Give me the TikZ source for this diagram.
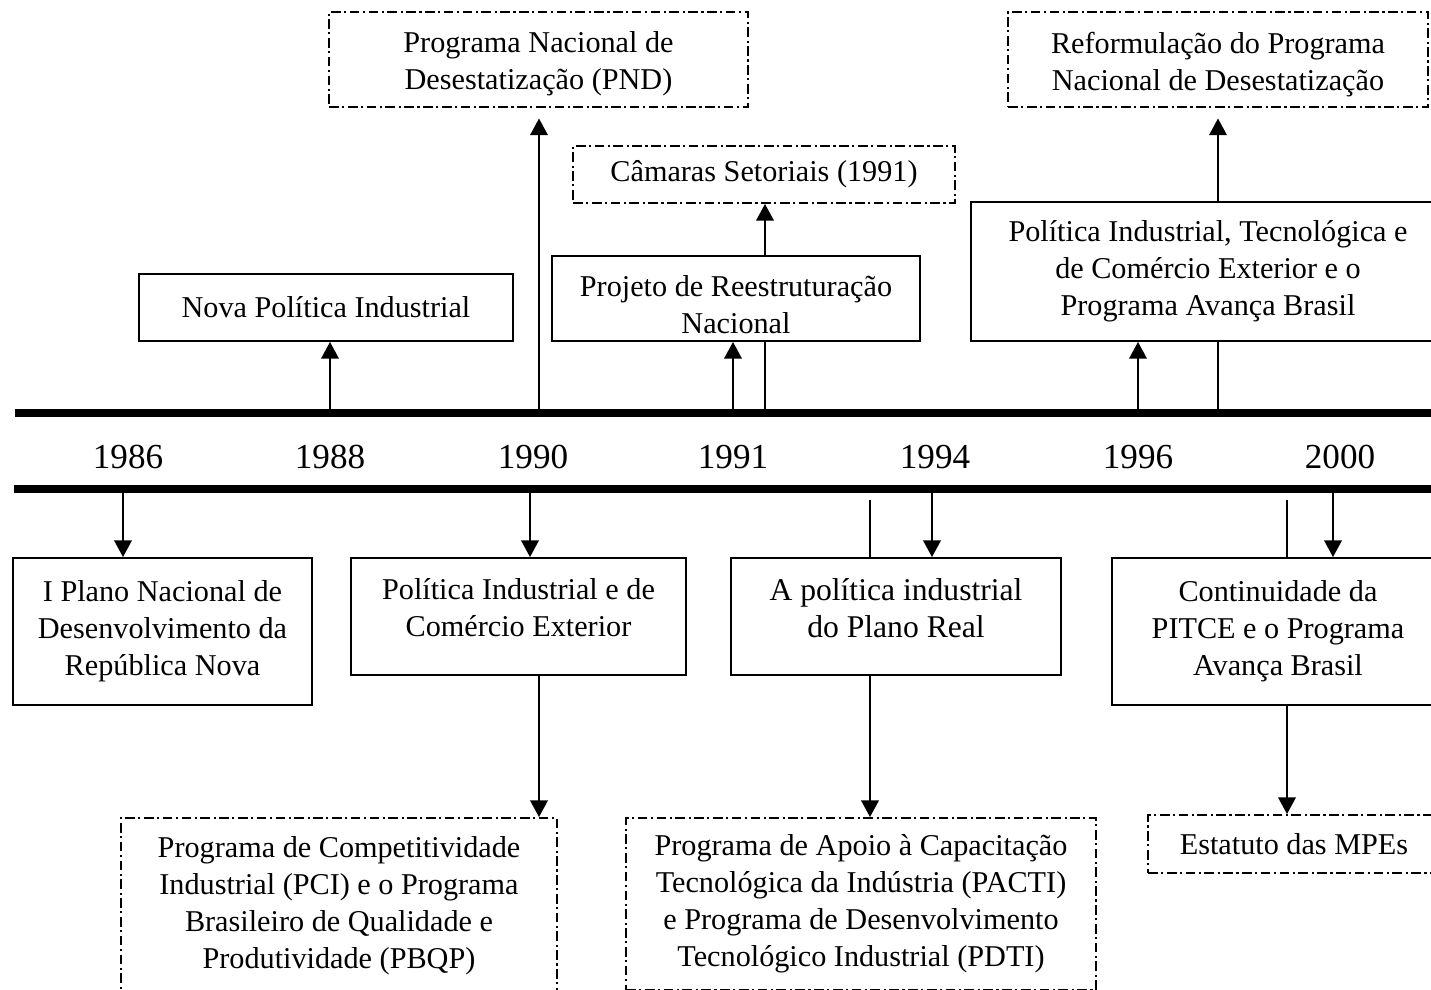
\documentclass[tikz,border=0pt]{standalone}
\usepackage{fontspec}
\setmainfont{Liberation Serif}
\usetikzlibrary{arrows.meta}

\begin{document}
\begin{tikzpicture}[x=0.02cm,y=-0.02cm,
    caixa/.style={draw, line width=1.1pt, align=center, inner sep=0pt, font=\fontsize{17.2}{21}\selectfont},
    tracejada/.style={caixa, dash pattern=on 5.5pt off 2pt on 1.2pt off 2pt},
    seta/.style={line width=1.1pt, -{Triangle[width=10pt,length=9.5pt]}},
    haste/.style={line width=1.1pt},
    ano/.style={font=\fontsize{20}{24}\selectfont}]
  \useasboundingbox (0,0) rectangle (1431,990);
  \clip (0,0) rectangle (1431,990);
  % linha do tempo
  \draw[line width=4.5pt] (15,413) -- (1431,413);
  \draw[line width=4.5pt] (14,489) -- (1431,489);
  \node[ano] (a86) at (128,457) {1986};
  \node[ano] (a88) at (330,457) {1988};
  \node[ano] (a90) at (533,457) {1990};
  \node[ano] (a91) at (733,457) {1991};
  \node[ano] (a94) at (935,457) {1994};
  \node[ano] (a96) at (1138,457) {1996};
  \node[ano] (a00) at (1340,457) {2000};
  % pontos na barra de cima
  \coordinate (c88) at (330,413);
  \coordinate (c90) at (539,413);
  \coordinate (c91a) at (733,413);
  \coordinate (c91b) at (765,413);
  \coordinate (c96a) at (1138,413);
  \coordinate (c96b) at (1218,413);
  % pontos na barra de baixo
  \coordinate (b86) at (123,489);
  \coordinate (b90) at (530,489);
  \coordinate (d90) at (539,489);
  \coordinate (r94) at (870,500);
  \coordinate (b94) at (932,489);
  \coordinate (r00) at (1287,500);
  \coordinate (b00) at (1333,489);
  % caixas de cima
  \node[tracejada, minimum width=8.38cm, minimum height=1.9cm, text height=38pt] (pnd) at (538.5,59.5)
    {Programa Nacional de\\Desestatização (PND)};
  \node[caixa, minimum width=7.48cm, minimum height=1.34cm] (nova) at (326,307.5)
    {Nova Política Industrial};
  \node[tracejada, minimum width=7.64cm, minimum height=1.14cm] (camaras) at (764,174.5)
    {Câmaras Setoriais (1991)};
  \node[caixa, minimum width=7.36cm, minimum height=1.7cm, text height=40pt] (projeto) at (736,298.5)
    {Projeto de Reestruturação\\Nacional};
  \node[tracejada, minimum width=8.4cm, minimum height=1.9cm, text height=38.5pt] (reform) at (1218,59.5)
    {Reformulação do Programa\\Nacional de Desestatização};
  \node[caixa, minimum width=9.48cm, minimum height=2.78cm] (pitce) at (1208,271.5)
    {Política Industrial, Tecnológica e\\de Comércio Exterior e o\\Programa Avança Brasil};
  % caixas de baixo
  \node[caixa, minimum width=5.98cm, minimum height=2.94cm] (plano) at (162.5,631.5)
    {I Plano Nacional de\\Desenvolvimento da\\República Nova};
  \node[caixa, minimum width=6.7cm, minimum height=2.34cm, text depth=10.5pt] (pice) at (518.5,616.5)
    {Política Industrial e de\\Comércio Exterior};
  \node[caixa, minimum width=6.6cm, minimum height=2.34cm, text depth=9.6pt, font=\fontsize{18}{21}\selectfont] (real) at (896,616.5)
    {A política industrial\\do Plano Real};
  \node[caixa, minimum width=6.64cm, minimum height=2.94cm] (cont) at (1278,631.5)
    {Continuidade da\\PITCE e o Programa\\Avança Brasil};
  \node[tracejada, minimum width=8.72cm, minimum height=3.52cm] (pci) at (339,906)
    {Programa de Competitividade\\Industrial (PCI) e o Programa\\Brasileiro de Qualidade e\\Produtividade (PBQP)};
  \node[tracejada, minimum width=9.4cm, minimum height=3.44cm] (pacti) at (861,904)
    {Programa de Apoio à Capacitação\\Tecnológica da Indústria (PACTI)\\e Programa de Desenvolvimento\\Tecnológico Industrial (PDTI)};
  \node[tracejada, minimum width=5.84cm, minimum height=1.16cm] (mpe) at (1294,844)
    {Estatuto das MPEs};
  % ligações de cima
  \draw[seta] (c88) -- (c88 |- nova.south);
  \draw[seta, shorten >=6pt] (c90) -- (c90 |- pnd.south);
  \draw[seta] (c91a) -- (c91a |- projeto.south);
  \draw[haste] (c91b) -- (c91b |- projeto.south);
  \draw[seta] (c91b |- projeto.north) -- (c91b |- camaras.south);
  \draw[seta] (c96a) -- (c96a |- pitce.south);
  \draw[haste] (c96b) -- (c96b |- pitce.south);
  \draw[seta, shorten >=6pt] (c96b |- pitce.north) -- (c96b |- reform.south);
  % ligações de baixo
  \draw[seta] (b86) -- (b86 |- plano.north);
  \draw[seta] (b90) -- (b90 |- pice.north);
  \draw[seta] (d90 |- pice.south) -- (d90 |- pci.north);
  \draw[haste] (r94) -- (r94 |- real.north);
  \draw[seta] (b94) -- (b94 |- real.north);
  \draw[seta] (r94 |- real.south) -- (r94 |- pacti.north);
  \draw[haste] (r00) -- (r00 |- cont.north);
  \draw[seta] (b00) -- (b00 |- cont.north);
  \draw[seta] (r00 |- cont.south) -- (r00 |- mpe.north);
\end{tikzpicture}
\end{document}
